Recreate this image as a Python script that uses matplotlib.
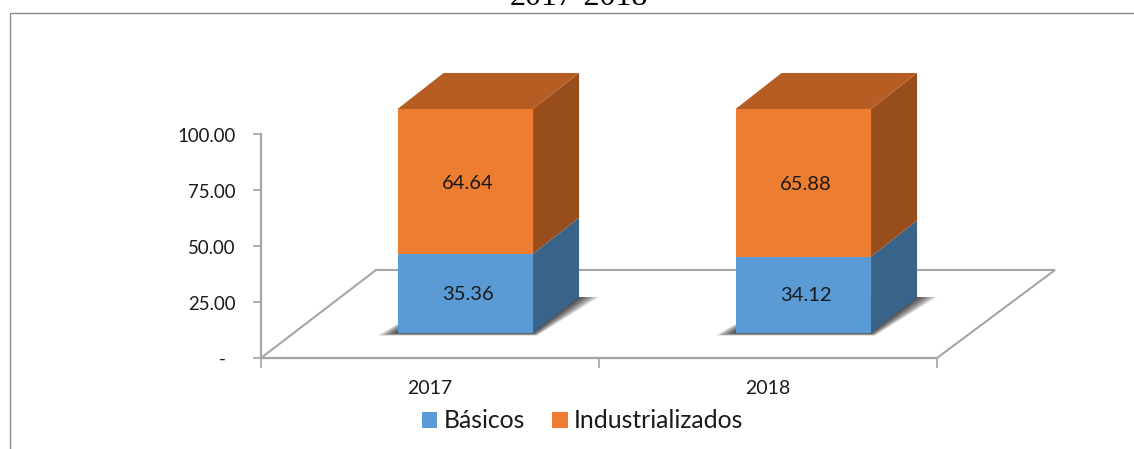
import matplotlib
matplotlib.use("Agg")
import matplotlib.pyplot as plt
from matplotlib.lines import Line2D
from matplotlib.patches import Patch
from matplotlib.transforms import ScaledTranslation

W, H = 1134, 449
categories = ["2017", "2018"]
basicos = [35.36, 34.12]
industrializados = [64.64, 65.88]
series_names = ["Básicos", "Industrializados"]
yticks = [0, 25, 50, 75, 100]
ytick_labels = ["", "25.00", "50.00", "75.00", "100.00"]
zero_label = "-"
title = "2017-2018"

plt.rcParams['font.family'] = ['Lato', 'DejaVu Sans']
fig = plt.figure(figsize=(W / 100, H / 100), dpi=100)

# plot rectangle in reference pixels
L, R, T, B = 261, 937, 134, 358
ax = fig.add_axes([L / W, 1 - B / H, (R - L) / W, (B - T) / H])
ax.set_xlim(-0.5, 1.5)
ax.set_ylim(0, 100)
ax.patch.set_alpha(0)
px = 2.0 / (R - L)       # x data units per pixel
py = 100.0 / (B - T)     # y data units per pixel

GREY = "#a6a6a6"
TXT = "#1a1a1a"
for s in ("top", "right"):
    ax.spines[s].set_visible(False)
for s in ("left", "bottom"):
    ax.spines[s].set_color(GREY)
    ax.spines[s].set_linewidth(1.6)
ax.set_xticks([-0.5, 0.5, 1.5])
ax.set_xticklabels([])
ax.set_yticks(yticks)
ax.set_yticklabels(ytick_labels, fontsize=13.4, color=TXT)
ax.tick_params(axis="y", length=6, width=1.2, color=GREY, pad=12.5)
ax.tick_params(axis="x", length=7, width=1.2, color=GREY)
shift = ScaledTranslation(0, -1.5 / 100, fig.dpi_scale_trans)
for lbl in ax.get_yticklabels():
    lbl.set_transform(lbl.get_transform() + shift)
ax.annotate(zero_label, xy=(-0.5, 0), xytext=(-39 * 0.72, -1.0), textcoords="offset points",
            ha="center", va="center", fontsize=13.4, color=TXT, annotation_clip=False)

# floor
fx, fy = 115 * px, 88 * py
fx_r = 118 * px
ax.fill([-0.5, 1.5, 1.5 + fx_r, -0.5 + fx], [0, 0, fy, fy], facecolor="white",
        edgecolor=GREY, linewidth=1.5, clip_on=False, zorder=1)

# bars
bx, by = 35.3 * px, 25 * py    # bar base offset from front floor edge
dx, dy = 46 * px, 36 * py      # bar depth
bw = 135.5 * px
label_dx = 2.5 * px
C = {"b": ("#5b9bd5", "#3a638a"), "o": ("#ed7d31", "#974e1c", "#b55d22")}

for i, cat in enumerate(categories):
    x0 = i + bx - bw / 2
    x1 = x0 + bw
    v1, v2 = basicos[i], industrializados[i]
    base = by
    # soft floor shadow
    for k in range(10):
        g = (10 - k) * 2.0
        ax.fill([x0 - g * px, x1 + g * px * 0.2, x1 + dx + g * px, x0 + dx],
                [base - g * py * 0.13, base - g * py * 0.13, base + dy, base + dy],
                facecolor="black", alpha=0.10, linewidth=0, clip_on=False, zorder=2)
    # lower segment
    ax.bar(x0 + bw / 2, v1, bw, bottom=base, color=C["b"][0], clip_on=False, zorder=4)
    ax.fill([x1, x1 + dx, x1 + dx, x1],
            [base, base + dy, base + v1 + dy, base + v1],
            facecolor=C["b"][1], linewidth=0, clip_on=False, zorder=3)
    # upper segment
    ax.bar(x0 + bw / 2, v2, bw, bottom=base + v1, color=C["o"][0], clip_on=False, zorder=4)
    ax.fill([x1, x1 + dx, x1 + dx, x1],
            [base + v1, base + v1 + dy, base + v1 + v2 + dy, base + v1 + v2],
            facecolor=C["o"][1], linewidth=0, clip_on=False, zorder=3)
    top = base + v1 + v2
    ax.fill([x0, x1, x1 + dx, x0 + dx], [top, top, top + dy, top + dy],
            facecolor=C["o"][2], linewidth=0, clip_on=False, zorder=3)
    # data labels
    ax.text(x0 + bw / 2 + label_dx, base + v1 / 2 - 0.5, f"{v1:.2f}", ha="center", va="center",
            fontsize=14.5, color=TXT, zorder=6)
    ax.text(x0 + bw / 2 + label_dx, base + v1 + v2 / 2 - 0.8, f"{v2:.2f}", ha="center", va="center",
            fontsize=14.5, color=TXT, zorder=6)
    # category label
    ax.text(i, -13.5, cat, ha="center", va="center", fontsize=14,
            color=TXT, clip_on=False)

# legend
handles = [Patch(facecolor=C["b"][0], label=series_names[0]),
           Patch(facecolor=C["o"][0], label=series_names[1])]
fig.legend(handles=handles, loc="center", bbox_to_anchor=(582.5 / W, 1 - 421 / H),
           ncol=2, frameon=False, fontsize=17.8, handlelength=0.63, handleheight=0.63,
           handletextpad=0.26, columnspacing=1.1, labelcolor=TXT)

# chart frame, cut by the image edge on the right and bottom
fig.add_artist(Line2D([10 / W, 10 / W, 1],
                      [0, 1 - 13 / H, 1 - 13 / H], color="#8a8a8a", linewidth=1.0))

# title, cut by the top edge of the image
fig.text(578.5 / W, 1 - 5 / H, title, ha="center", va="baseline", fontsize=23,
         family=["Liberation Serif", "DejaVu Serif"], color="black")

fig.savefig("out.png", dpi=100)
